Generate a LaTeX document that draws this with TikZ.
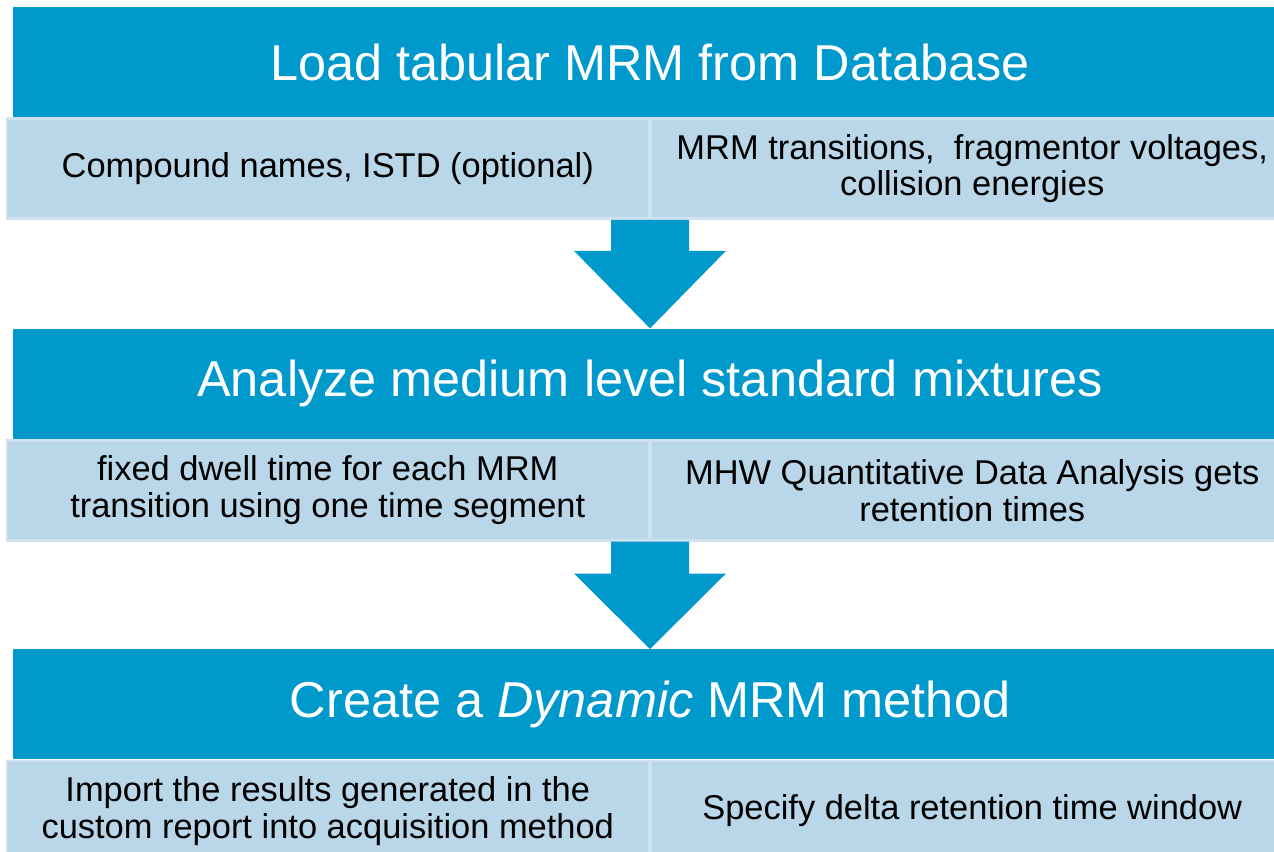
\documentclass[tikz,border=0pt]{standalone}
\usepackage{fontspec}
\setmainfont{Liberation Sans}
\usetikzlibrary{positioning,calc}
\definecolor{dkblue}{RGB}{0,153,204}
\definecolor{ltblue}{RGB}{185,215,232}
\definecolor{ltedge}{RGB}{208,226,239}
\begin{document}
\begin{tikzpicture}[node distance=4.22cm,
	head/.style={fill=dkblue, text=white, minimum width=25.48cm, minimum height=2.2cm, inner sep=0pt, font=\fontsize{28.7}{32}\selectfont},
	cell/.style={fill=ltblue, draw=ltedge, line width=1.4pt, minimum width=12.84cm, minimum height=2cm, inner sep=0pt, align=center, font=\fontsize{19.6}{21}\selectfont},
	blockarrow/.style={fill=dkblue}]
	\useasboundingbox (0,0) rectangle (25.48,-17.04);
	\clip (0,0) rectangle (25.48,-17.04);
	% step 1
	\node[head] (h1) at (13.0,-1.24) {Load tabular MRM from Database};
	\node[cell, anchor=north east] (a1) at (h1.south) {Compound names, ISTD (optional)};
	\node[cell, anchor=north west] (b1) at (h1.south) {MRM transitions,~~fragmentor voltages,\\collision energies};
	% step 2
	\node[head, below=of h1] (h2) {Analyze medium level standard mixtures};
	\node[cell, anchor=north east] (a2) at (h2.south) {fixed dwell time for each MRM\\transition using one time segment};
	\node[cell, anchor=north west] (b2) at (h2.south) {MHW Quantitative Data Analysis gets\\retention times};
	% step 3
	\node[head, below=4.2cm of h2] (h3) {Create a \textit{Dynamic} MRM method};
	\node[cell, anchor=north east] (a3) at (h3.south) {Import the results generated in the\\custom report into acquisition method};
	\node[cell, anchor=north west] (b3) at (h3.south) {Specify delta retention time window};
	% arrows
	\fill[blockarrow] ($(a1.south east)+(-0.78,0)$) -- ($(a1.south east)+(0.78,0)$) -- ($(a1.south east)+(0.78,-0.62)$)
		-- ($(a1.south east)+(1.52,-0.62)$) -- (h2.north) -- ($(a1.south east)+(-1.52,-0.62)$) -- ($(a1.south east)+(-0.78,-0.62)$) -- cycle;
	\fill[blockarrow] ($(a2.south east)+(-0.78,0)$) -- ($(a2.south east)+(0.78,0)$) -- ($(a2.south east)+(0.78,-0.64)$)
		-- ($(a2.south east)+(1.52,-0.64)$) -- (h3.north) -- ($(a2.south east)+(-1.52,-0.64)$) -- ($(a2.south east)+(-0.78,-0.64)$) -- cycle;
\end{tikzpicture}
\end{document}
